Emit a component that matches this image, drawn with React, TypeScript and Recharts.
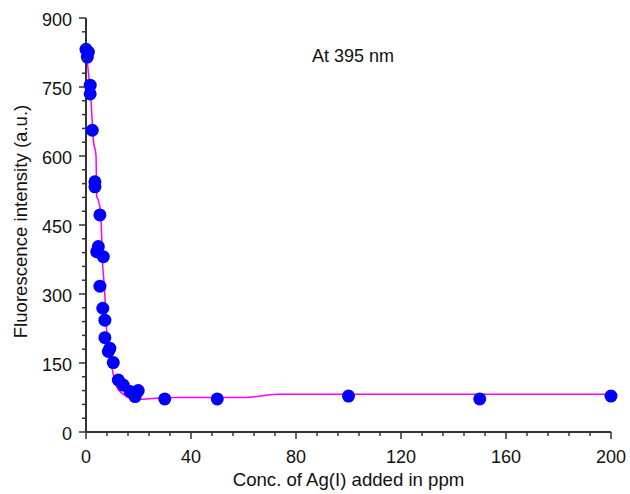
import React from 'react';
import { ComposedChart, Line, Scatter, XAxis, YAxis, Label } from 'recharts';

// measured points (conc. in ppm, intensity)
const concPts = [0, 0.9, 0.5, 1.6, 1.6, 2.4, 3.4, 3.4, 5.3, 4.7, 4.1, 6.6, 5.3, 6.4, 7.2, 7.2, 9.1, 8.5, 10.4, 12.3, 14.2, 16.8, 18.7, 19.9, 30, 50, 100, 150, 200];
const intensityPts = [832, 826, 815, 754, 735, 656, 544, 533, 472, 403, 392, 381, 317, 269, 243, 205, 182, 175, 151, 113, 102, 88, 77, 90, 72, 72, 78, 72, 78];

// fitted curve
const fitConc = [0, 0.7, 1.9, 2.8, 3.8, 4.1, 4.7, 5.6, 6.4, 7.0, 7.9, 9.8, 11.7, 15.5, 18, 23, 32, 60, 73, 200];
const fitIntensity = [840, 794, 722, 635, 602, 512, 504, 475, 359, 316, 215, 142, 98, 77, 70, 72, 75, 75, 82, 82];

const xTicks = Array.from({ length: 26 }, (_, i) => i * 8);
const yTicks = Array.from({ length: 31 }, (_, i) => i * 30);

const points = concPts.map((x, i) => ({ x, y: intensityPts[i] }));
const fit = fitConc.map((x, i) => ({ x, y: fitIntensity[i] }));

const AXIS = '#333';
const FONT = '"Liberation Sans", Arial, sans-serif';
const FS = 18;
const LABEL_FS = 18.6;

const XTick = (props: any) => {
  const { x, y, payload } = props;
  const major = payload.value % 40 === 0;
  return (
    <g>
      <line x1={x} x2={x} y1={y} y2={y + (major ? 7 : 4)} stroke={AXIS} strokeWidth={1.5} />
      {major && (
        <text x={x} y={y + 31} textAnchor="middle" fontSize={FS} fill="#111" fontFamily={FONT}>{payload.value}</text>
      )}
    </g>
  );
};

const YTick = (props: any) => {
  const { x, y, payload } = props;
  const major = payload.value % 150 === 0;
  return (
    <g>
      <line x1={x - (major ? 7 : 4)} x2={x} y1={y} y2={y} stroke={AXIS} strokeWidth={1.5} />
      {major && (
        <text x={x - 14} y={y + 7.5} textAnchor="end" fontSize={FS} fill="#111" fontFamily={FONT}>{payload.value}</text>
      )}
    </g>
  );
};

const Dot = (p: any) => <circle cx={p.cx} cy={p.cy} r={6.5} fill="#0000ff" />;

export default function App() {
  return (
    <div style={{ position: 'absolute', left: 0, top: 0, background: '#fff' }}>
      <ComposedChart width={630} height={494} margin={{ top: 18, right: 19, bottom: 0, left: 0 }}>
        <XAxis
          dataKey="x"
          type="number"
          domain={[0, 200]}
          ticks={xTicks}
          interval={0}
          height={62}
          tickSize={0}
          tickMargin={0}
          tick={<XTick />}
          axisLine={{ stroke: AXIS, strokeWidth: 2 }}
        >
          <Label
            content={() => (
              <text x={348.5} y={486} textAnchor="middle" fontSize={LABEL_FS} fill="#111" fontFamily={FONT}>
                Conc. of Ag(I) added in ppm
              </text>
            )}
          />
        </XAxis>
        <YAxis
          dataKey="y"
          type="number"
          domain={[0, 900]}
          ticks={yTicks}
          interval={0}
          width={86}
          tickSize={0}
          tickMargin={0}
          tick={<YTick />}
          axisLine={{ stroke: AXIS, strokeWidth: 2 }}
        >
          <Label
            content={() => (
              <text x={27} y={221.5} transform="rotate(-90 27 221.5)" textAnchor="middle" fontSize={LABEL_FS} fill="#111" fontFamily={FONT}>
                Fluorescence intensity (a.u.)
              </text>
            )}
          />
        </YAxis>
        <Line
          data={fit}
          dataKey="y"
          type="monotone"
          stroke="#ff00ff"
          strokeWidth={1.5}
          dot={false}
          activeDot={false}
          isAnimationActive={false}
        />
        <Scatter data={points} dataKey="y" shape={<Dot />} isAnimationActive={false} />
        <text x={353} y={61.5} textAnchor="middle" fontSize={FS} fill="#111" fontFamily={FONT}>At 395 nm</text>
      </ComposedChart>
    </div>
  );
}
